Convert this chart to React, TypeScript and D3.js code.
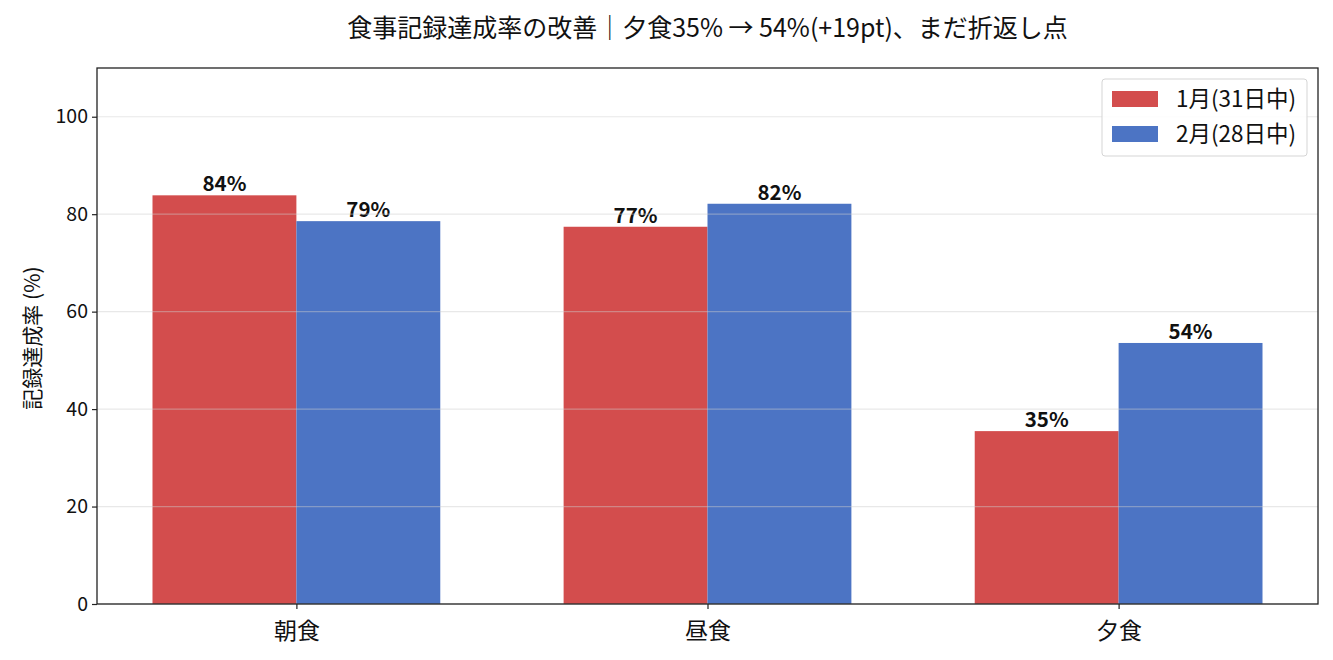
import { useEffect, useRef } from 'react';
import * as d3 from 'd3';

const meals = ['朝食', '昼食', '夕食'];
const seriesNames = ['1月(31日中)', '2月(28日中)'];
const janRates = [83.87, 77.42, 35.48];
const febRates = [78.57, 82.14, 53.57];
const yTicks = [0, 20, 40, 60, 80, 100];
const title = '食事記録達成率の改善｜夕食35% → 54%(+19pt)、まだ折返し点';
const yLabel = '記録達成率 (%)';

const FONT = '"Noto Sans CJK JP", "Noto Sans", sans-serif';
const colors = ['#d34d4d', '#4c74c4'];

export default function App() {
  const svgRef = useRef<SVGSVGElement>(null);

  useEffect(() => {
    const svg = d3.select(svgRef.current);
    if (!svg.node()) return;
    svg.selectAll('*').remove();

    const width = 1333;
    const height = 660;
    const margin = { top: 68, right: 15, bottom: 56, left: 97 };
    const barW = 0.35;

    const x = d3.scaleLinear().domain([-0.485, 2.485]).range([margin.left, width - margin.right]);
    const y = d3.scaleLinear().domain([0, 110]).range([height - margin.bottom, margin.top]);

    const series = [janRates, febRates];

    const g = svg.append('g');

    series.forEach((vals, si) => {
      g.append('g')
        .selectAll('rect')
        .data(vals)
        .join('rect')
        .attr('x', (_, i) => x(i + (si === 0 ? -barW : 0)))
        .attr('y', (d) => y(d))
        .attr('width', x(barW) - x(0))
        .attr('height', (d) => y(0) - y(d))
        .attr('fill', colors[si]);

      g.append('g')
        .selectAll('text')
        .data(vals)
        .join('text')
        .attr('x', (_, i) => x(i + (si === 0 ? -barW / 2 : barW / 2)))
        .attr('y', (d) => y(d) - 4)
        .attr('text-anchor', 'middle')
        .attr('font-family', FONT)
        .attr('font-weight', 'bold')
        .attr('font-size', 20.5)
        .attr('fill', '#111')
        .text((d) => `${Math.round(d)}%`);
    });

    // grid drawn above bars, faint
    g.append('g')
      .selectAll('line')
      .data(yTicks)
      .join('line')
      .attr('x1', margin.left)
      .attr('x2', width - margin.right)
      .attr('y1', (d) => y(d))
      .attr('y2', (d) => y(d))
      .attr('stroke', '#cccccc')
      .attr('stroke-opacity', 0.45)
      .attr('stroke-width', 1.2);

    g.append('rect')
      .attr('x', margin.left)
      .attr('y', margin.top)
      .attr('width', width - margin.right - margin.left)
      .attr('height', height - margin.bottom - margin.top)
      .attr('fill', 'none')
      .attr('stroke', '#222')
      .attr('stroke-width', 1.3);

    g.append('g')
      .attr('transform', `translate(${margin.left},0)`)
      .call(d3.axisLeft(y).tickValues(yTicks).tickSize(5).tickPadding(4))
      .call((sel) => sel.select('.domain').remove())
      .call((sel) => sel.selectAll('line').attr('stroke', '#222').attr('stroke-width', 1.2))
      .call((sel) =>
        sel.selectAll('text').attr('font-family', FONT).attr('font-size', 19.5).attr('fill', '#111'),
      );

    g.append('g')
      .attr('transform', `translate(0,${height - margin.bottom})`)
      .call(
        d3
          .axisBottom(x)
          .tickValues([0, 1, 2])
          .tickFormat((v) => meals[v as number])
          .tickSize(5)
          .tickPadding(14),
      )
      .call((sel) => sel.select('.domain').remove())
      .call((sel) => sel.selectAll('line').attr('stroke', '#222').attr('stroke-width', 1.2))
      .call((sel) =>
        sel.selectAll('text').attr('font-family', FONT).attr('font-size', 23).attr('fill', '#111'),
      );

    g.append('text')
      .attr('transform', `translate(40,338) rotate(-90)`)
      .attr('text-anchor', 'middle')
      .attr('font-family', FONT)
      .attr('font-size', 21)
      .attr('fill', '#111')
      .text(yLabel);

    g.append('text')
      .attr('x', (margin.left + width - margin.right) / 2)
      .attr('y', 37)
      .attr('text-anchor', 'middle')
      .attr('font-family', FONT)
      .attr('font-size', 25)
      .attr('fill', '#111')
      .text(title);

    // legend
    const lg = g.append('g').attr('transform', `translate(${1102},${79})`);
    lg.append('rect')
      .attr('width', 205)
      .attr('height', 77)
      .attr('rx', 3)
      .attr('fill', 'white')
      .attr('fill-opacity', 0.85)
      .attr('stroke', '#d5d5d5')
      .attr('stroke-width', 1);
    seriesNames.forEach((name, i) => {
      lg.append('rect')
        .attr('x', 10)
        .attr('y', 12 + i * 35)
        .attr('width', 46)
        .attr('height', 16)
        .attr('fill', colors[i]);
      lg.append('text')
        .attr('x', 74)
        .attr('y', 20 + i * 35)
        .attr('dy', '0.35em')
        .attr('font-family', FONT)
        .attr('font-size', 22.5)
        .attr('fill', '#111')
        .text(name);
    });
  }, []);

  return (
    <div style={{ width: 1333, height: 660, margin: -8, background: 'white' }}>
      <svg ref={svgRef} width={1333} height={660} style={{ display: 'block' }} />
    </div>
  );
}
